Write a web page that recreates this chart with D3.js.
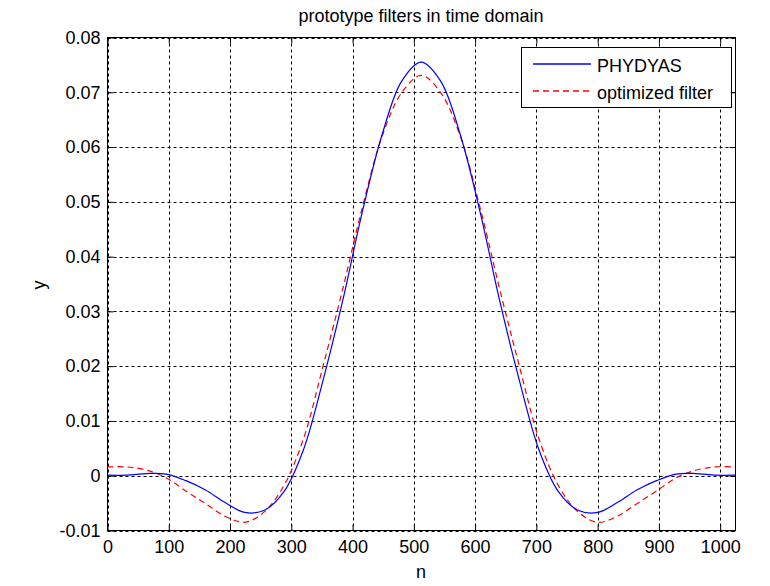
<!DOCTYPE html>
<html>
<head>
<meta charset="utf-8">
<script src="https://cdn.jsdelivr.net/npm/d3@7/dist/d3.min.js"></script>
<style>
  body { margin: 0; background: #fff; }
  text { font-family: Arial, "Liberation Sans", sans-serif; fill: #000; }
</style>
</head>
<body>
<svg id="chart" width="770" height="586"></svg>
<script>
// sample index n (every 32 samples)
const nIdx = [0, 32, 64, 96, 128, 160, 192, 224, 256, 288, 320, 352, 384, 416, 448, 480, 512,
              544, 576, 608, 640, 672, 704, 736, 768, 800, 832, 864, 896, 928, 960, 992, 1024];
// values
const phydyas = [0.0001, 0.0001, 0.0004, 0.0003, -0.0009, -0.0026, -0.0049, -0.0067, -0.0063, -0.0029,
                 0.0048, 0.0175, 0.0320, 0.0482, 0.0622, 0.0720, 0.0755,
                 0.0720, 0.0622, 0.0482, 0.0320, 0.0175, 0.0048, -0.0029, -0.0063, -0.0067,
                 -0.0049, -0.0026, -0.0009, 0.0003, 0.0004, 0.0001, 0.0001];
const optimized = [0.0016, 0.0016, 0.0010, -0.0004, -0.0028, -0.0051, -0.0074, -0.0085, -0.0066, -0.0018,
                   0.0068, 0.0201, 0.0341, 0.0490, 0.0619, 0.0699, 0.0731,
                   0.0699, 0.0619, 0.0490, 0.0341, 0.0201, 0.0068, -0.0018, -0.0066, -0.0085,
                   -0.0074, -0.0051, -0.0028, -0.0004, 0.0010, 0.0016, 0.0016];
const xTicks = [0, 100, 200, 300, 400, 500, 600, 700, 800, 900, 1000];
const yTicks = [-0.01, 0, 0.01, 0.02, 0.03, 0.04, 0.05, 0.06, 0.07, 0.08];
const seriesNames = ["PHYDYAS", "optimized filter"];

const svg = d3.select('#chart');
const pLeft = 107.5, pRight = 735.5, pTop = 37.5, pBottom = 530.5;

const x = d3.scaleLinear().domain([0, 1025]).range([pLeft, pRight]);
const y = d3.scaleLinear().domain([-0.01, 0.08]).range([pBottom, pTop]);

svg.append('rect').attr('width', 770).attr('height', 586).attr('fill', '#fff');

// grid (dotted, matlab style)
const grid = svg.append('g').attr('stroke', '#000').attr('stroke-width', 1)
  .attr('stroke-dasharray', '3,3').attr('fill', 'none');
xTicks.forEach(t => {
  grid.append('line').attr('x1', Math.round(x(t)) + 0.5).attr('x2', Math.round(x(t)) + 0.5)
    .attr('y1', pTop).attr('y2', pBottom);
});
yTicks.forEach(t => {
  grid.append('line').attr('y1', Math.round(y(t)) + 0.5).attr('y2', Math.round(y(t)) + 0.5)
    .attr('x1', pLeft).attr('x2', pRight);
});

// axes with inward ticks on all 4 sides
function styleAxis(g) {
  g.select('.domain').remove();
  g.selectAll('line').attr('stroke', '#000');
  g.selectAll('text').style('font-size', '18px').style('font-family', 'Arial, "Liberation Sans", sans-serif');
}
svg.append('g').attr('transform', `translate(0,${pBottom})`)
  .call(d3.axisBottom(x).tickValues(xTicks).tickSizeInner(-6).tickSizeOuter(0).tickPadding(10)
    .tickFormat(d3.format('d')))
  .call(styleAxis);
svg.append('g').attr('transform', `translate(0,${pTop})`)
  .call(d3.axisTop(x).tickValues(xTicks).tickSizeInner(-6).tickSizeOuter(0).tickFormat(''))
  .call(styleAxis);
svg.append('g').attr('transform', `translate(${pLeft},0)`)
  .call(d3.axisLeft(y).tickValues(yTicks).tickSizeInner(-6).tickSizeOuter(0).tickPadding(7)
    .tickFormat(d => d === 0 ? '0' : d.toFixed(2)))
  .call(styleAxis);
svg.append('g').attr('transform', `translate(${pRight},0)`)
  .call(d3.axisRight(y).tickValues(yTicks).tickSizeInner(-6).tickSizeOuter(0).tickFormat(''))
  .call(styleAxis);

// box
svg.append('rect').attr('x', pLeft).attr('y', pTop).attr('width', pRight - pLeft).attr('height', pBottom - pTop)
  .attr('fill', 'none').attr('stroke', '#000').attr('stroke-width', 1);

// curves
const line = d3.line().x(d => x(d[0])).y(d => y(d[1])).curve(d3.curveCatmullRom.alpha(0.5));
svg.append('path').datum(nIdx.map((n, i) => [n, optimized[i]]))
  .attr('d', line).attr('fill', 'none').attr('stroke', '#ff0000').attr('stroke-width', 1.2)
  .attr('stroke-dasharray', '6,4');
svg.append('path').datum(nIdx.map((n, i) => [n, phydyas[i]]))
  .attr('d', line).attr('fill', 'none').attr('stroke', '#0000ff').attr('stroke-width', 1.2);

// title and labels
svg.append('text').attr('x', 421).attr('y', 22).attr('text-anchor', 'middle')
  .style('font-size', '18px').text('prototype filters in time domain');
svg.append('text').attr('x', 421).attr('y', 578).attr('text-anchor', 'middle')
  .style('font-size', '18px').text('n');
svg.append('text').attr('transform', 'translate(45,285) rotate(-90)').attr('text-anchor', 'middle')
  .style('font-size', '18px').text('y');

// legend
const lg = svg.append('g');
lg.append('rect').attr('x', 521.5).attr('y', 47.5).attr('width', 210).attr('height', 60)
  .attr('fill', '#fff').attr('stroke', '#000');
const legendStyles = [{color: '#0000ff', dash: 'none'}, {color: '#ff0000', dash: '6,4'}];
seriesNames.forEach((name, i) => {
  const ly = 64 + i * 27;
  lg.append('line').attr('x1', 533).attr('x2', 591).attr('y1', ly).attr('y2', ly)
    .attr('stroke', legendStyles[i].color).attr('stroke-width', 1.4)
    .attr('stroke-dasharray', legendStyles[i].dash);
  lg.append('text').attr('x', 597).attr('y', ly + 7.5).style('font-size', '18px').text(name);
});
</script>
</body>
</html>
